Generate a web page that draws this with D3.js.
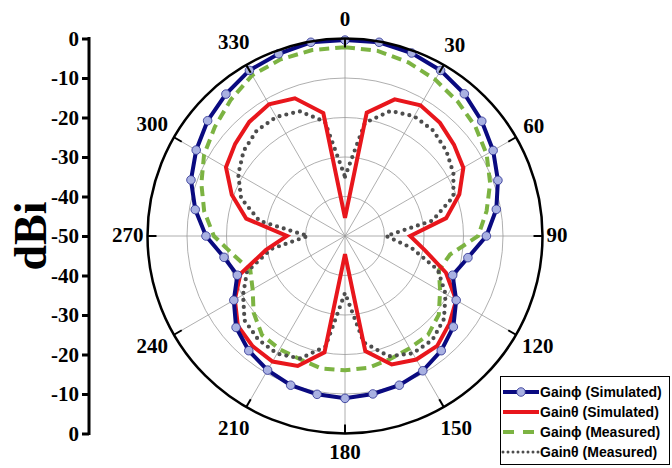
<!DOCTYPE html>
<html><head><meta charset="utf-8">
<script src="https://cdn.jsdelivr.net/npm/d3@7"></script>
<style>html,body{margin:0;padding:0;background:#fff;}svg{display:block;}</style>
</head><body>
<svg id="chart" width="672" height="468"></svg>
<script>
// ---- data ----
const angles = [0,10,20,30,40,50,60,70,80,90,100,110,120,130,140,150,160,170,180,190,200,210,220,230,240,250,260,270,280,290,300,310,320,330,340,350];
const gainPhiSim = [-0.4,-0.2,-0.7,-1.6,-3.0,-4.8,-6.7,-8.8,-11.1,-14.2,-18.4,-21.0,-17.5,-14.2,-12.1,-10.6,-9.8,-9.4,-8.9,-9.3,-9.8,-10.8,-12.1,-14.0,-17.5,-21.0,-18.9,-14.8,-11.5,-8.5,-6.5,-4.6,-3.1,-1.6,-0.9,-0.2];
const gainThetaSim = [-45.4,-18.3,-13.2,-11.8,-12.6,-14.0,-15.4,-19.2,-24.0,-33.5,-29.5,-22.8,-17.5,-15.5,-13.7,-13.9,-15.4,-20.4,-45.4,-20.1,-15.0,-13.3,-13.6,-14.6,-17.8,-21.8,-29.7,-35.3,-24.6,-19.5,-15.2,-13.7,-12.3,-11.5,-12.9,-18.4];
const gainPhiMeas = [-2.2,-2.4,-3.2,-4.3,-5.6,-6.9,-8.6,-10.9,-13.6,-16.3,-23.0,-24.7,-22.2,-19.0,-17.3,-17.2,-16.8,-16.1,-16.0,-15.9,-16.8,-16.9,-17.3,-19.8,-23.0,-24.5,-21.5,-16.8,-13.8,-11.3,-8.8,-7.0,-5.0,-3.0,-2.4,-2.2];
const gainThetaMeas = [-35.0,-20.9,-16.3,-15.0,-15.2,-16.5,-18.3,-20.8,-27.5,-39.6,-33.0,-25.0,-20.6,-17.3,-15.6,-15.7,-17.6,-22.6,-35.6,-21.6,-17.0,-15.6,-15.8,-16.8,-20.2,-23.6,-31.0,-40.6,-28.0,-22.0,-18.8,-16.5,-15.2,-15.2,-16.4,-20.6];
const angleTicks = [0,30,60,90,120,150,180,210,240,270,300,330];
const ringValues = [-40,-30,-20,-10];
const axisTickLabels = ["0","-10","-20","-30","-40","-50","-40","-30","-20","-10","0"];
const legendLabels = ["Gain\u03D5 (Simulated)","Gain\u03B8 (Simulated)","Gain\u03D5 (Measured)","Gain\u03B8 (Measured)"];

// ---- layout ----
const cx = 345, cy = 236, R = 197.5;
const svg = d3.select("#chart");
const r = d3.scaleLinear().domain([-50,0]).range([0,R]);
const toRad = d => d*Math.PI/180;
const g = svg.append("g").attr("transform",`translate(${cx},${cy})`);

// grid rings
g.selectAll("circle.ring").data(ringValues).join("circle")
  .attr("r", d=>r(d)).attr("fill","none").attr("stroke","#9a9a9a").attr("stroke-width",0.8);
// spokes
g.selectAll("line.spoke").data(angleTicks).join("line")
  .attr("x1",0).attr("y1",0)
  .attr("x2",d=>R*Math.sin(toRad(d))).attr("y2",d=>-R*Math.cos(toRad(d)))
  .attr("stroke","#9a9a9a").attr("stroke-width",0.8);

// data lines
const radial = vals => d3.lineRadial()
  .angle((d,i)=>toRad(angles[i])).radius(d=>r(d)).curve(d3.curveLinearClosed)(vals);

g.append("path").attr("d",radial(gainPhiMeas)).attr("fill","none")
  .attr("stroke","#7cb342").attr("stroke-width",4).attr("stroke-dasharray","10,6");
g.append("path").attr("d",radial(gainThetaMeas)).attr("fill","none")
  .attr("stroke","#4d4d4d").attr("stroke-width",4.2).attr("stroke-linecap","round").attr("stroke-dasharray","0,7");
g.append("path").attr("d",radial(gainThetaSim)).attr("fill","none")
  .attr("stroke","#e8161c").attr("stroke-width",4).attr("stroke-linejoin","miter");
g.append("path").attr("d",radial(gainPhiSim)).attr("fill","none")
  .attr("stroke","#0a0a80").attr("stroke-width",4);
g.selectAll("circle.mk").data(gainPhiSim).join("circle")
  .attr("cx",(d,i)=>r(d)*Math.sin(toRad(angles[i])))
  .attr("cy",(d,i)=>-r(d)*Math.cos(toRad(angles[i])))
  .attr("r",4.3).attr("fill","#a9b1e2").attr("stroke","#2a2f90").attr("stroke-width",0.8);

// outer circle and ticks
g.append("circle").attr("r",R).attr("fill","none").attr("stroke","#000").attr("stroke-width",2.5);
g.selectAll("line.otick").data(angleTicks).join("line")
  .attr("x1",d=>R*Math.sin(toRad(d))).attr("y1",d=>-R*Math.cos(toRad(d)))
  .attr("x2",d=>(R-9)*Math.sin(toRad(d))).attr("y2",d=>-(R-9)*Math.cos(toRad(d)))
  .attr("stroke","#000").attr("stroke-width",2);

// angle labels
const fontSerif = "'Liberation Serif','Times New Roman',serif";
const labOff = d => {const s=Math.sin(toRad(d)), c=Math.cos(toRad(d)); const w=String(d).length*10.5;
  return R+4+8*Math.abs(c)+Math.abs(s)*w/2+Math.abs(c)*7;};
g.selectAll("text.alab").data(angleTicks).join("text")
  .attr("font-family",fontSerif).attr("font-weight","bold").attr("font-size",21)
  .attr("text-anchor","middle").attr("dominant-baseline","central")
  .attr("x",d=>labOff(d)*Math.sin(toRad(d)))
  .attr("y",d=>-labOff(d)*Math.cos(toRad(d)) - 1)
  .text(d=>d);

// left axis
const yAxisScale = d3.scaleLinear().domain([0,axisTickLabels.length-1]).range([cy-R, cy+R]);
const axisG = svg.append("g").attr("transform","translate(89,0)");
axisG.call(d3.axisLeft(yAxisScale).tickValues(d3.range(axisTickLabels.length))
  .tickFormat(i=>axisTickLabels[i]).tickSize(7).tickPadding(3));
axisG.select(".domain").attr("stroke","#000").attr("stroke-width",3).attr("d",`M0,${cy-R-1.5}V${cy+R+1.5}`);
axisG.selectAll(".tick line").attr("stroke","#000").attr("stroke-width",3);
axisG.selectAll(".tick text").attr("font-family",fontSerif).attr("font-weight","bold").attr("font-size",21).attr("fill","#000");
svg.append("text").attr("transform",`translate(46,${cy}) rotate(-90)`)
  .attr("text-anchor","middle").attr("font-family",fontSerif).attr("font-weight","bold")
  .attr("font-size",46).text("dBi");

// legend
const lg = svg.append("g");
lg.append("rect").attr("x",500.5).attr("y",376.5).attr("width",169).attr("height",88)
  .attr("fill","#fff").attr("stroke","#000").attr("stroke-width",1);
const rowY = i => 392 + i*20;
const styles = [
  {stroke:"#0a0a80", w:4, dash:null, cap:"butt"},
  {stroke:"#e8161c", w:4, dash:null, cap:"butt"},
  {stroke:"#7cb342", w:4, dash:"11,9", cap:"butt"},
  {stroke:"#4d4d4d", w:3, dash:"0,5", cap:"round"}
];
legendLabels.forEach((lab,i)=>{
  const s = styles[i];
  const ln = lg.append("line").attr("x1",503).attr("x2",539).attr("y1",rowY(i)).attr("y2",rowY(i))
    .attr("stroke",s.stroke).attr("stroke-width",s.w).attr("stroke-linecap",s.cap);
  if (s.dash) ln.attr("stroke-dasharray",s.dash);
  if (i===0) lg.append("circle").attr("cx",521).attr("cy",rowY(i)).attr("r",4.3)
    .attr("fill","#a9b1e2").attr("stroke","#2a2f90").attr("stroke-width",0.8);
  lg.append("text").attr("x",540).attr("y",rowY(i)).attr("dominant-baseline","central")
    .attr("font-family","'Liberation Sans',Arial,sans-serif").attr("font-weight","bold")
    .attr("font-size",14).text(lab);
});
</script>
</body></html>
